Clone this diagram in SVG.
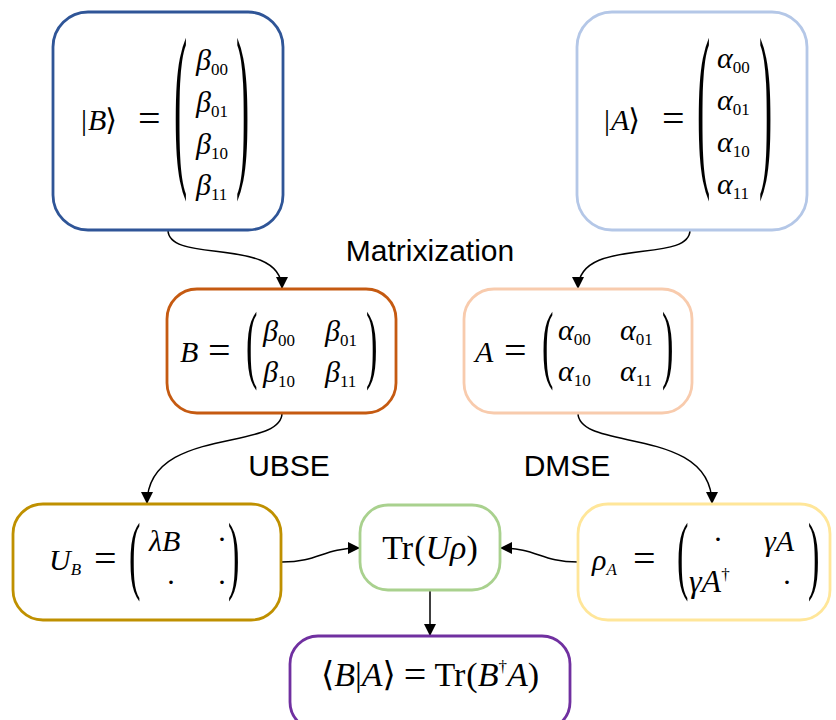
<svg xmlns="http://www.w3.org/2000/svg" width="836" height="720" viewBox="0 0 836 720">
<style>
.box{fill:#fff;stroke-width:2.8}
.m{font-family:"Liberation Serif","DejaVu Serif",serif;font-size:30px;fill:#000}
.i{font-style:italic}
.s{font-size:17px}
.eq{font-size:40px}
.b{font-size:34px}
.lbl{font-family:"Liberation Sans",Arial,sans-serif;font-size:30px;fill:#000}
.edge{fill:none;stroke:#000;stroke-width:1.5}
.bp{font-family:"Liberation Serif","DejaVu Serif",serif;font-size:180px}
.mp{font-family:"Liberation Serif","DejaVu Serif",serif;font-size:86px}
</style>
<defs>
<marker id="arr" markerUnits="userSpaceOnUse" markerWidth="12" markerHeight="12" viewBox="0 0 12 12" refX="12" refY="6" orient="auto">
<path d="M0,0 L12,6 L0,12 z" fill="#000"/>
</marker>
</defs>
<g id="connectors">
<path class="edge" d="M168,230 C168,265 282,235 282,289" marker-end="url(#arr)"/>
<path class="edge" d="M690,230 C690,265 578,235 578,289" marker-end="url(#arr)"/>
<path class="edge" d="M282,413 C282,452 147,425 147,504" marker-end="url(#arr)"/>
<path class="edge" d="M578,413 C578,452 712,425 712,504" marker-end="url(#arr)"/>
<path class="edge" d="M282,562 C320,562 322,548 360,548" marker-end="url(#arr)"/>
<path class="edge" d="M578,562 C540,562 538,548 500,548" marker-end="url(#arr)"/>
<path class="edge" d="M430,590 L430,636" marker-end="url(#arr)"/>
</g>
<g id="labels">
<text class="lbl" x="430" y="261" text-anchor="middle">Matrixization</text>
<text class="lbl" x="289" y="476" text-anchor="middle">UBSE</text>
<text class="lbl" x="567" y="476" text-anchor="middle">DMSE</text>
</g>
<g id="ketB">
<rect class="box" x="53" y="12" width="230" height="218" rx="35" stroke="#2F5597"/>
<text class="m" x="81" y="130" font-size="32">|<tspan class="i" dx="1">B</tspan><tspan dx="-1">⟩</tspan></text>
<text class="m eq" x="138" y="132">=</text>
<text class="bp" transform="translate(174,163) scale(0.22,1)">(</text>
<text class="bp" transform="translate(236,163) scale(0.22,1)">)</text>
<text class="m" x="196" y="70"><tspan class="i">β</tspan><tspan class="s" dy="5">00</tspan></text>
<text class="m" x="196" y="112"><tspan class="i">β</tspan><tspan class="s" dy="5">01</tspan></text>
<text class="m" x="196" y="154"><tspan class="i">β</tspan><tspan class="s" dy="5">10</tspan></text>
<text class="m" x="196" y="195"><tspan class="i">β</tspan><tspan class="s" dy="5">11</tspan></text>
</g>
<g id="ketA">
<rect class="box" x="577" y="12" width="230" height="218" rx="35" stroke="#B4C7E7"/>
<text class="m" x="604" y="130" font-size="32">|<tspan class="i" dx="1">A</tspan><tspan dx="-1">⟩</tspan></text>
<text class="m eq" x="662" y="132">=</text>
<text class="bp" transform="translate(697,163) scale(0.22,1)">(</text>
<text class="bp" transform="translate(759,163) scale(0.22,1)">)</text>
<text class="m" x="717" y="68"><tspan class="i">α</tspan><tspan class="s" dy="5">00</tspan></text>
<text class="m" x="717" y="110"><tspan class="i">α</tspan><tspan class="s" dy="5">01</tspan></text>
<text class="m" x="717" y="152"><tspan class="i">α</tspan><tspan class="s" dy="5">10</tspan></text>
<text class="m" x="717" y="194"><tspan class="i">α</tspan><tspan class="s" dy="5">11</tspan></text>
</g>
<g id="matB">
<rect class="box" x="167" y="289" width="229" height="124" rx="30" stroke="#C55A11"/>
<text class="m i" x="180" y="362">B</text>
<text class="m eq" x="208" y="364">=</text>
<text class="mp" transform="translate(246,372) scale(0.4,1)">(</text>
<text class="mp" transform="translate(366,372) scale(0.4,1)">)</text>
<text class="m" x="263" y="341"><tspan class="i">β</tspan><tspan class="s" dy="5">00</tspan></text>
<text class="m" x="325" y="341"><tspan class="i">β</tspan><tspan class="s" dy="5">01</tspan></text>
<text class="m" x="263" y="382"><tspan class="i">β</tspan><tspan class="s" dy="5">10</tspan></text>
<text class="m" x="325" y="382"><tspan class="i">β</tspan><tspan class="s" dy="5">11</tspan></text>
</g>
<g id="matA">
<rect class="box" x="464" y="289" width="228" height="124" rx="30" stroke="#F8CBAD"/>
<text class="m i" x="475" y="362">A</text>
<text class="m eq" x="504" y="364">=</text>
<text class="mp" transform="translate(542,372) scale(0.4,1)">(</text>
<text class="mp" transform="translate(662,372) scale(0.4,1)">)</text>
<text class="m" x="558" y="340"><tspan class="i">α</tspan><tspan class="s" dy="5">00</tspan></text>
<text class="m" x="620" y="340"><tspan class="i">α</tspan><tspan class="s" dy="5">01</tspan></text>
<text class="m" x="558" y="381"><tspan class="i">α</tspan><tspan class="s" dy="5">10</tspan></text>
<text class="m" x="620" y="381"><tspan class="i">α</tspan><tspan class="s" dy="5">11</tspan></text>
</g>
<g id="UB">
<rect class="box" x="13" y="504" width="268" height="116" rx="30" stroke="#BF9000"/>
<text class="m" x="49" y="570"><tspan class="i">U</tspan><tspan class="s i" dy="5">B</tspan></text>
<text class="m eq" x="94" y="572">=</text>
<text class="mp" transform="translate(129,583) scale(0.4,1)">(</text>
<text class="mp" transform="translate(228,583) scale(0.4,1)">)</text>
<text class="m i" x="149" y="551" font-size="32">λB</text>
<text class="m" x="217" y="549">·</text>
<text class="m" x="166" y="592">·</text>
<text class="m" x="217" y="592">·</text>
</g>
<g id="TrUrho">
<rect class="box" x="360" y="505" width="140" height="85" rx="28" stroke="#A9D18E"/>
<text class="m b" x="430" y="559" text-anchor="middle">Tr<tspan dx="1">(</tspan><tspan class="i">Uρ</tspan>)</text>
</g>
<g id="rhoA">
<rect class="box" x="578" y="504" width="252" height="116" rx="30" stroke="#FFE699"/>
<text class="m" x="592" y="570"><tspan class="i">ρ</tspan><tspan class="s i" dy="5">A</tspan></text>
<text class="m eq" x="633" y="572">=</text>
<text class="mp" transform="translate(677,583) scale(0.4,1)">(</text>
<text class="mp" transform="translate(808,583) scale(0.4,1)">)</text>
<text class="m" x="713" y="549">·</text>
<text class="m i" x="764" y="551" font-size="32">γA</text>
<text class="m" x="689" y="592"><tspan class="i" font-size="32">γA</tspan><tspan class="s" dy="-12">†</tspan></text>
<text class="m" x="782" y="592">·</text>
</g>
<g id="braket">
<rect class="box" x="290" y="636" width="280" height="94" rx="28" stroke="#7030A0"/>
<text class="m b" x="430" y="686" text-anchor="middle">⟨<tspan class="i">B</tspan>|<tspan class="i">A</tspan>⟩<tspan class="eq" dx="8" dy="2">=</tspan><tspan dx="8" dy="-2">Tr</tspan><tspan dx="1">(</tspan><tspan class="i">B</tspan><tspan class="s" dy="-14">†</tspan><tspan class="i" dy="14">A</tspan>)</text>
</g>
</svg>
